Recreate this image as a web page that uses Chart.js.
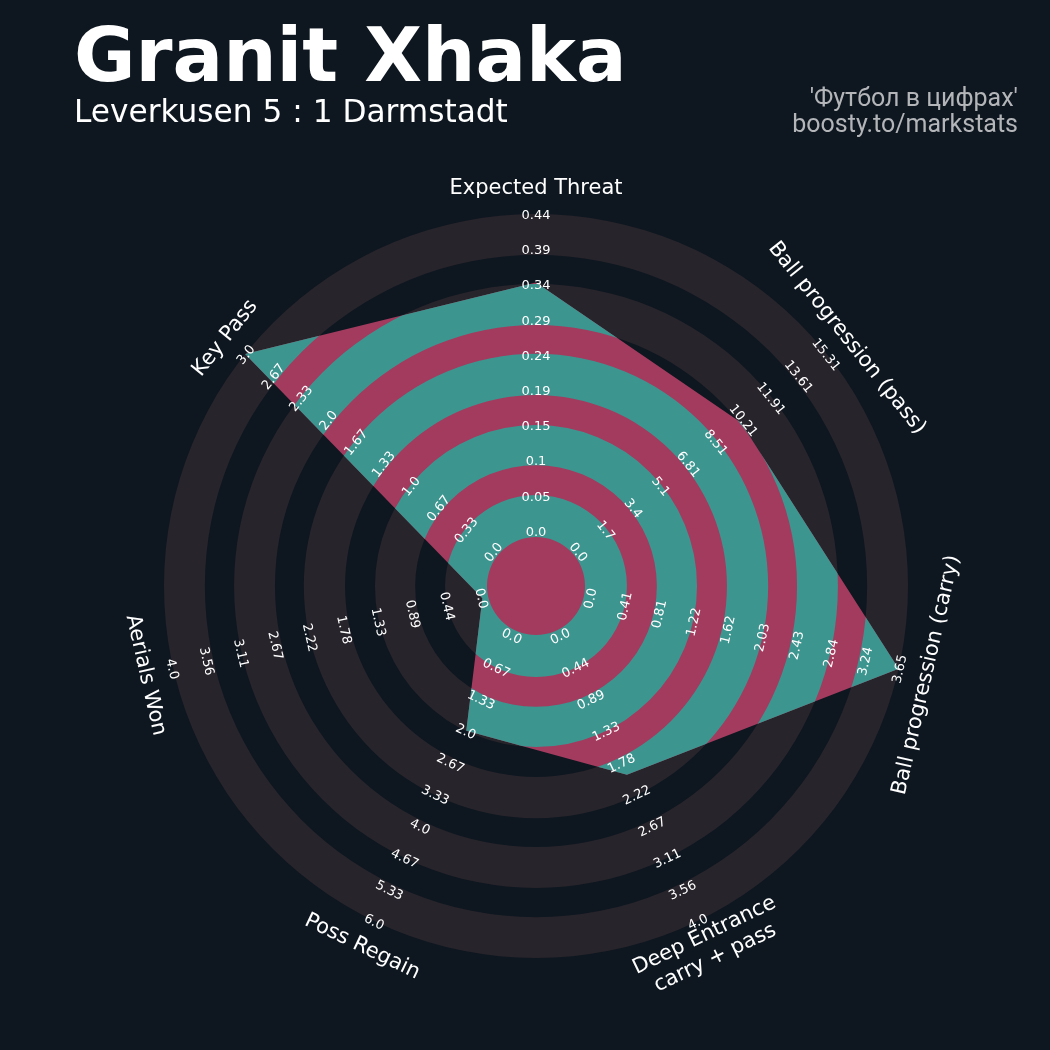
<!DOCTYPE html>
<html>
<head>
<meta charset="utf-8">
<script src="https://cdn.jsdelivr.net/npm/chart.js@4.4.1/dist/chart.umd.min.js"></script>
<style>
  html, body { margin: 0; padding: 0; background: #0e1720; }
  #wrap { position: relative; width: 1050px; height: 1050px; overflow: hidden; }
  #c { position: absolute; left: 0; top: 0; }
  .txt { position: absolute; white-space: nowrap; }
  #title { left: 74px; top: 18px; font: bold 75px/75px "DejaVu Sans", sans-serif; color: #ffffff; }
  #subtitle { left: 74px; top: 96px; font: 31.2px/31.2px "DejaVu Sans", sans-serif; color: #ffffff; }
  .credit { right: 32px; font: 25px/25px Roboto, sans-serif; color: #b3b5b8; text-align: right; }
  #credit1 { top: 85px; }
  #credit2 { top: 111px; }
</style>
</head>
<body>
<div id="wrap">
  <canvas id="c" width="1050" height="1050"></canvas>
  <div class="txt" id="title">Granit Xhaka</div>
  <div class="txt" id="subtitle">Leverkusen 5 : 1 Darmstadt</div>
  <div class="txt credit" id="credit1">'Футбол в цифрах'</div>
  <div class="txt credit" id="credit2">boosty.to/markstats</div>
</div>
<script>
// ---------------- DATA ----------------
const params = ['Expected Threat', 'Ball progression (pass)', 'Ball progression (carry)',
                ['Deep Entrance', 'carry + pass'], 'Poss Regain', 'Aerials Won', 'Key Pass'];
const values   = [0.345, 10.0, 3.65, 1.95, 2.0, 0.0, 3.0];
const minRange = [0, 0, 0, 0, 0, 0, 0];
const maxRange = [0.44, 15.31, 3.65, 4.0, 6.0, 4.0, 3.0];

const ticksXT      = ['0.0','0.05','0.1','0.15','0.19','0.24','0.29','0.34','0.39','0.44'];
const ticksBPPass  = ['0.0','1.7','3.4','5.1','6.81','8.51','10.21','11.91','13.61','15.31'];
const ticksBPCarry = ['0.0','0.41','0.81','1.22','1.62','2.03','2.43','2.84','3.24','3.65'];
const ticksDeep    = ['0.0','0.44','0.89','1.33','1.78','2.22','2.67','3.11','3.56','4.0'];
const ticksRegain  = ['0.0','0.67','1.33','2.0','2.67','3.33','4.0','4.67','5.33','6.0'];
const ticksAerial  = ['0.0','0.44','0.89','1.33','1.78','2.22','2.67','3.11','3.56','4.0'];
const ticksKeyPass = ['0.0','0.33','0.67','1.0','1.33','1.67','2.0','2.33','2.67','3.0'];
const tickLabels = [ticksXT, ticksBPPass, ticksBPCarry, ticksDeep, ticksRegain, ticksAerial, ticksKeyPass];

// ---------------- STYLE ----------------
const RING_GRAY = '#28242b';
const TEAL = '#3d958f';
const CRIMSON = '#a33b5f';
const STEPS = tickLabels[0].length - 1;          // 9 intervals between range labels
const CENTER_OFFSET = 495 / 317;                 // room for the centre circle (scale units)
const ringBands = [[-0.17, 1.02], [1.87, 3.01], [3.86, 5.03], [5.85, 7.01], [7.84, 9.0]];
const LABEL_DIST = 399;
const TEXT_NUDGE = 1.5;

// normalise each value onto the common radial scale (0..STEPS)
const normValues = values.map((v, i) => (v - minRange[i]) / (maxRange[i] - minRange[i]) * STEPS);

function rotationFor(i, n) {
  let rot = i * 360 / n;
  if (rot > 90 && rot < 270) rot -= 180;
  return rot * Math.PI / 180;
}

function annulus(ctx, scale, a, b) {
  const cx = scale.xCenter, cy = scale.yCenter;
  const ra = scale.getDistanceFromCenterForValue(a);
  const rb = scale.getDistanceFromCenterForValue(b);
  ctx.beginPath();
  ctx.arc(cx, cy, rb, 0, Math.PI * 2, false);
  ctx.moveTo(cx + ra, cy);
  ctx.arc(cx, cy, ra, 0, Math.PI * 2, true);
  ctx.closePath();
  ctx.fill();
}

const ringsPlugin = {
  id: 'rings',
  beforeDatasetsDraw(chart) {
    const scale = chart.scales.r, ctx = chart.ctx;
    ctx.save();
    ctx.fillStyle = RING_GRAY;
    ringBands.forEach(([a, b]) => annulus(ctx, scale, a, b));
    ctx.restore();
  },
  afterDatasetsDraw(chart) {
    const scale = chart.scales.r, ctx = chart.ctx;
    const pts = chart.getDatasetMeta(0).data;
    ctx.save();
    ctx.beginPath();
    pts.forEach((p, i) => { if (i === 0) ctx.moveTo(p.x, p.y); else ctx.lineTo(p.x, p.y); });
    ctx.closePath();
    ctx.clip();
    ctx.fillStyle = TEAL;
    ringBands.forEach(([a, b]) => annulus(ctx, scale, a, b));
    ctx.restore();
  }
};

const labelsPlugin = {
  id: 'radarLabels',
  afterDraw(chart) {
    const scale = chart.scales.r, ctx = chart.ctx;
    const n = params.length;
    ctx.save();
    ctx.textAlign = 'center';
    ctx.textBaseline = 'middle';
    ctx.fillStyle = '#ffffff';
    // range labels
    ctx.font = '13px "DejaVu Sans", sans-serif';
    for (let i = 0; i < n; i++) {
      const rot = rotationFor(i, n);
      tickLabels[i].forEach((t, j) => {
        const p = scale.getPointPositionForValue(i, j);
        ctx.save();
        ctx.translate(p.x, p.y);
        ctx.rotate(rot);
        ctx.fillText(t, 0, TEXT_NUDGE);
        ctx.restore();
      });
    }
    // parameter labels
    ctx.font = '21px "DejaVu Sans", sans-serif';
    for (let i = 0; i < n; i++) {
      const rot = rotationFor(i, n);
      const p = scale.getPointPosition(i, LABEL_DIST);
      const lines = Array.isArray(params[i]) ? params[i] : [params[i]];
      const lh = 25;
      ctx.save();
      ctx.translate(p.x, p.y);
      ctx.rotate(rot);
      lines.forEach((ln, k) => ctx.fillText(ln, 0, (k - (lines.length - 1) / 2) * lh + TEXT_NUDGE));
      ctx.restore();
    }
    ctx.restore();
  }
};

new Chart(document.getElementById('c'), {
  type: 'radar',
  data: {
    labels: params,
    datasets: [{
      data: normValues,
      backgroundColor: CRIMSON,
      borderWidth: 0,
      borderColor: 'rgba(0,0,0,0)',
      pointRadius: 0,
      pointHoverRadius: 0,
      fill: 'start',
      tension: 0
    }]
  },
  options: {
    responsive: false,
    animation: false,
    events: [],
    layout: { padding: { left: 164, right: 142, top: 214, bottom: 92 } },
    plugins: { legend: { display: false }, tooltip: { enabled: false }, title: { display: false } },
    scales: {
      r: {
        min: -CENTER_OFFSET,
        max: STEPS,
        startAngle: 0,
        beginAtZero: false,
        angleLines: { display: false },
        grid: { display: false },
        ticks: { display: false },
        pointLabels: { display: false }
      }
    }
  },
  plugins: [ringsPlugin, labelsPlugin]
});
</script>
</body>
</html>
